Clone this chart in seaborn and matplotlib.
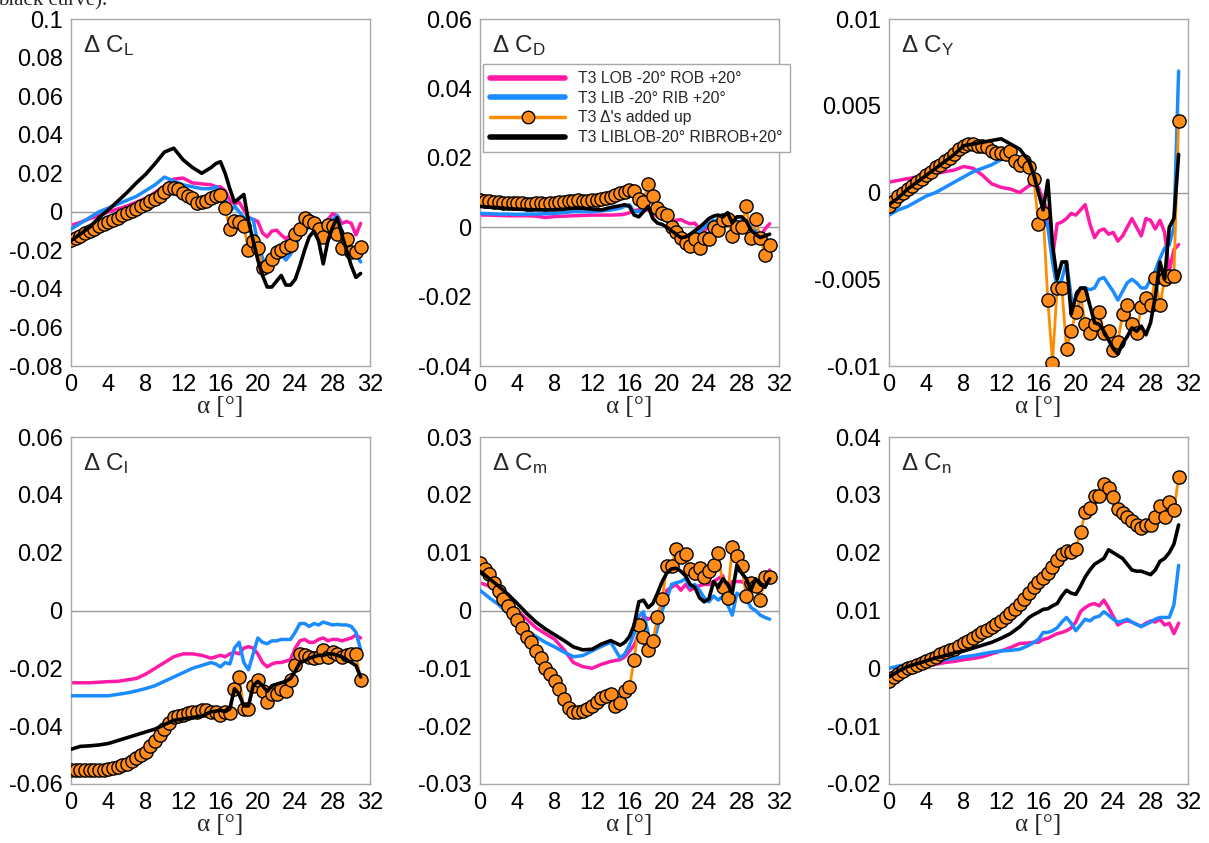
import numpy as np
import matplotlib
matplotlib.use("Agg")
import matplotlib.pyplot as plt
from matplotlib.ticker import MultipleLocator, AutoMinorLocator, FuncFormatter
from matplotlib.lines import Line2D
import seaborn as sns

# ---------------- data ----------------
# angle of attack grids [deg]
ALPHA_LINE = [0, 1, 2, 3, 4, 5, 6, 7, 8, 9, 10, 11, 12, 13, 14,
              15, 15.5, 16, 16.5, 17, 17.5, 18, 18.5, 19, 19.5, 20, 20.5, 21, 21.5,
              22, 22.5, 23, 23.5, 24, 24.5, 25, 25.5, 26, 26.5, 27, 27.5, 28, 28.5,
              29, 29.5, 30, 30.5, 31]
ALPHA_SUM = [0, 0.5, 1, 1.5, 2, 2.5, 3, 3.5, 4, 4.5, 5, 5.5, 6, 6.5, 7, 7.5, 8, 8.5,
             9, 9.5, 10, 10.5, 11, 11.5, 12, 12.5, 13, 13.5, 14, 14.5, 15, 15.5, 16,
             16.5, 17, 17.5, 18, 18.5, 19, 19.5, 20, 20.5, 21, 21.5, 22, 22.5, 23,
             23.5, 24, 24.5, 25, 25.5, 26, 26.5, 27, 27.5, 28, 28.5, 29, 29.5, 30,
             30.5, 31]

SERIES_LABELS = ["T3 LOB -20\u00b0 ROB +20\u00b0", "T3 LIB -20\u00b0 RIB +20\u00b0",
                 "T3 \u0394's added up", "T3 LIBLOB-20\u00b0 RIBROB+20\u00b0"]

# ---- Delta C_L ----
CL_LOB = [-0.007, -0.0055, -0.0035, -0.002, 0.000, 0.0015, 0.003, 0.005, 0.007, 0.010, 0.0135, 0.017, 0.0175, 0.015, 0.0145,
          0.014, 0.013, 0.013, 0.011, 0.006, 0.004, 0.005, 0.001, -0.003, -0.004, -0.005, -0.011, -0.013, -0.010, -0.0095, -0.012,
          -0.014, -0.012, -0.009, -0.006, -0.004, -0.003, -0.005, -0.007, -0.006, -0.004, -0.001, -0.002, -0.006, -0.005, -0.006,
          -0.012, -0.006]
CL_LIB = [-0.009, -0.006, -0.003, 0.000, 0.002, 0.004, 0.006, 0.008, 0.011, 0.014, 0.018, 0.016, 0.014, 0.013, 0.012,
          0.012, 0.013, 0.011, 0.007, 0.000, 0.003, 0.000, -0.003, -0.003, -0.004, -0.016, -0.024, -0.028, -0.027, -0.023, -0.022,
          -0.025, -0.022, -0.018, -0.013, -0.010, -0.008, -0.007, -0.009, -0.012, -0.007, -0.004, -0.002, -0.010, -0.016, -0.020,
          -0.022, -0.026]
CL_SUM = [-0.0146, -0.0134, -0.0123, -0.0111, -0.0100, -0.0088, -0.0076, -0.0065, -0.0053, -0.0042, -0.0030, -0.0018, -0.0007,
          0.0005, 0.0017, 0.0028, 0.0040, 0.0055, 0.0068, 0.0083, 0.0105, 0.0125, 0.0125, 0.0120, 0.0100, 0.0083, 0.0070, 0.0045,
          0.0050, 0.0057, 0.0070, 0.0083, 0.0087, 0.0020, -0.0090, -0.0047, -0.0055, -0.0073, -0.0200, -0.0150, -0.0190, -0.0290,
          -0.0280, -0.0246, -0.0210, -0.0198, -0.0185, -0.0173, -0.0116, -0.0087, -0.0030, -0.0047, -0.0060, -0.0087, -0.0133,
          -0.0070, -0.0076, -0.0116, -0.0190, -0.0139, -0.0210, -0.0210, -0.0180]
CL_BOTH = [-0.015, -0.0115, -0.008, -0.003, 0.001, 0.0055, 0.010, 0.015, 0.0195, 0.025, 0.031, 0.033, 0.027, 0.023, 0.020,
           0.023, 0.025, 0.026, 0.020, 0.012, 0.005, 0.007, 0.009, -0.005, -0.015, -0.025, -0.033, -0.039, -0.039, -0.036, -0.033,
           -0.038, -0.038, -0.035, -0.028, -0.020, -0.013, -0.010, -0.015, -0.027, -0.015, -0.008, -0.003, -0.012, -0.020, -0.028,
           -0.034, -0.032]

# ---- Delta C_D ----
CD_LOB = [0.0035, 0.0035, 0.0034, 0.0033, 0.0033, 0.0033, 0.0032, 0.0028, 0.0031, 0.0032, 0.0033, 0.0034, 0.0035, 0.0035, 0.0035,
          0.0036, 0.0038, 0.0042, 0.0048, 0.0050, 0.0048, 0.0050, 0.0040, 0.0030, 0.0025, 0.0020, 0.0018, 0.0020, 0.0022, 0.0015,
          0.0010, 0.0012, -0.0005, -0.0010, 0.0002, -0.0002, -0.0010, 0.0000, 0.0015, 0.0020, 0.0005, -0.0010, 0.0005, 0.0000,
          -0.0015, -0.0030, -0.0005, 0.0010]
CD_LIB = [0.0040, 0.0039, 0.0038, 0.0038, 0.0037, 0.0038, 0.0038, 0.0039, 0.0040, 0.0042, 0.0045, 0.0045, 0.0045, 0.0047, 0.0050,
          0.0055, 0.0060, 0.0065, 0.0045, 0.0045, 0.0050, 0.0060, 0.0045, 0.0035, 0.0025, 0.0018, 0.0000, -0.0020, -0.0028, -0.0030,
          -0.0025, -0.0020, -0.0010, 0.0000, 0.0012, 0.0020, 0.0018, 0.0020, 0.0030, 0.0025, 0.0000, 0.0020, 0.0010, 0.0000,
          -0.0010, -0.0020, -0.0035, -0.0050]
CD_SUM = [0.0078, 0.0077, 0.0075, 0.0073, 0.0072, 0.0071, 0.0070, 0.0070, 0.0069, 0.0069, 0.0068, 0.0068, 0.0069, 0.0070, 0.0068,
          0.0070, 0.0071, 0.0072, 0.0073, 0.0075, 0.0077, 0.0078, 0.0077, 0.0077, 0.0078, 0.0079, 0.0080, 0.0083, 0.0088, 0.0093,
          0.0098, 0.0103, 0.0108, 0.0105, 0.0082, 0.0072, 0.0125, 0.0090, 0.0055, 0.0042, 0.0035, 0.0000, -0.0015, -0.0030,
          -0.0045, -0.0055, -0.0035, -0.0060, -0.0030, -0.0035, 0.0000, -0.0008, 0.0020, 0.0025, -0.0025, 0.0000, 0.0000, 0.0060,
          -0.0030, 0.0025, -0.0030, -0.0080, -0.0050]
CD_BOTH = [0.0060, 0.0058, 0.0056, 0.0054, 0.0052, 0.0051, 0.0050, 0.0050, 0.0050, 0.0052, 0.0055, 0.0055, 0.0052, 0.0050, 0.0057,
           0.0062, 0.0065, 0.0060, 0.0035, 0.0030, 0.0045, 0.0060, 0.0025, 0.0012, 0.0008, 0.0000, -0.0010, -0.0020, -0.0030,
           -0.0028, -0.0020, -0.0010, 0.0000, 0.0012, 0.0025, 0.0032, 0.0035, 0.0030, 0.0042, 0.0012, 0.0030, 0.0030, 0.0018,
           -0.0008, -0.0020, -0.0030, -0.0025, -0.0020]

# ---- Delta C_Y ----
CY_LOB = [0.0006, 0.0007, 0.0008, 0.0009, 0.0010, 0.0011, 0.0012, 0.0013, 0.0015, 0.0014, 0.0010, 0.0005, 0.0003, 0.0002, 0.0000,
          0.0004, 0.0005, 0.0003, -0.0005, -0.0010, -0.0037, -0.0018, -0.0017, -0.0015, -0.0012, -0.0013, -0.0010, -0.0007,
          -0.0018, -0.0026, -0.0022, -0.0021, -0.0024, -0.0023, -0.0028, -0.0025, -0.0020, -0.0015, -0.0020, -0.0025, -0.0015,
          -0.0016, -0.0021, -0.0016, -0.0023, -0.0045, -0.0033, -0.0030]
CY_LIB = [-0.0013, -0.0010, -0.0008, -0.0005, -0.0002, 0.0000, 0.0003, 0.0006, 0.0009, 0.0012, 0.0014, 0.0016, 0.0019, 0.0020, 0.0019,
          0.0015, 0.0010, 0.0000, -0.0010, -0.0020, -0.0040, -0.0055, -0.0050, -0.0040, -0.0060, -0.0072, -0.0060, -0.0055,
          -0.0056, -0.0055, -0.0050, -0.0049, -0.0053, -0.0057, -0.0062, -0.0057, -0.0052, -0.0050, -0.0052, -0.0055, -0.0055,
          -0.0050, -0.0045, -0.0038, -0.0032, -0.0030, -0.0020, 0.0070]
CY_SUM = [-0.0008, -0.0005, -0.0002, 0.0000, 0.0002, 0.0004, 0.0006, 0.0008, 0.0010, 0.0012, 0.0015, 0.0016, 0.0018, 0.0020, 0.0022,
          0.0025, 0.0027, 0.0028, 0.0028, 0.0027, 0.0027, 0.0026, 0.0024, 0.0023, 0.0023, 0.0022, 0.0024, 0.0018, 0.0016, 0.0018,
          0.0015, 0.0008, -0.0018, -0.0012, -0.0062, -0.0098, -0.0055, -0.0055, -0.0090, -0.0080, -0.0069, -0.0059, -0.0076,
          -0.0081, -0.0076, -0.0069, -0.0081, -0.0080, -0.0091, -0.0086, -0.0070, -0.0065, -0.0076, -0.0081, -0.0066, -0.0061,
          -0.0065, -0.0049, -0.0065, -0.0050, -0.0048, -0.0048, 0.0041]
CY_BOTH = [-0.0007, -0.0003, 0.0002, 0.0006, 0.0010, 0.0014, 0.0018, 0.0022, 0.0027, 0.0028, 0.0029, 0.0030, 0.0031, 0.0028, 0.0025,
           0.0018, 0.0010, 0.0000, -0.0010, 0.0007, -0.0030, -0.0050, -0.0040, -0.0040, -0.0070, -0.0060, -0.0055, -0.0055,
           -0.0065, -0.0075, -0.0076, -0.0080, -0.0085, -0.0090, -0.0093, -0.0087, -0.0083, -0.0078, -0.0080, -0.0077, -0.0082,
           -0.0075, -0.0060, -0.0040, -0.0050, -0.0020, -0.0015, 0.0022]

# ---- Delta C_l ----
Cl_LOB = [-0.025, -0.025, -0.025, -0.0248, -0.0246, -0.0245, -0.024, -0.0235, -0.022, -0.020, -0.018, -0.016, -0.015, -0.015, -0.0155,
          -0.0165, -0.016, -0.0155, -0.016, -0.015, -0.0145, -0.015, -0.013, -0.0125, -0.013, -0.015, -0.018, -0.0195, -0.0185,
          -0.018, -0.018, -0.0175, -0.017, -0.013, -0.0105, -0.010, -0.011, -0.011, -0.010, -0.0095, -0.0105, -0.010, -0.010,
          -0.0105, -0.010, -0.0095, -0.0085, -0.0095]
Cl_LIB = [-0.0295, -0.0295, -0.0295, -0.0295, -0.0295, -0.029, -0.0285, -0.0278, -0.027, -0.026, -0.0245, -0.023, -0.0215, -0.020,
          -0.019, -0.018, -0.0185, -0.0195, -0.018, -0.0185, -0.013, -0.011, -0.018, -0.0205, -0.015, -0.0095, -0.011, -0.0115,
          -0.0105, -0.0105, -0.010, -0.010, -0.010, -0.0075, -0.0045, -0.0045, -0.0055, -0.0045, -0.005, -0.004, -0.0045, -0.005,
          -0.0048, -0.005, -0.005, -0.0055, -0.0075, -0.0135]
Cl_SUM = [-0.055, -0.055, -0.055, -0.055, -0.055, -0.055, -0.055, -0.055, -0.0548, -0.0545, -0.054, -0.0535, -0.053, -0.052, -0.051,
          -0.050, -0.049, -0.047, -0.045, -0.043, -0.041, -0.039, -0.037, -0.0365, -0.036, -0.0355, -0.035, -0.035, -0.0345,
          -0.0345, -0.035, -0.035, -0.036, -0.035, -0.0355, -0.027, -0.023, -0.034, -0.034, -0.026, -0.024, -0.028, -0.0315,
          -0.029, -0.029, -0.027, -0.028, -0.024, -0.019, -0.015, -0.0155, -0.016, -0.0165, -0.016, -0.0135, -0.016, -0.0145,
          -0.015, -0.016, -0.0155, -0.015, -0.015, -0.024]
Cl_BOTH = [-0.048, -0.047, -0.0468, -0.0465, -0.046, -0.045, -0.044, -0.043, -0.042, -0.041, -0.0395, -0.038, -0.0375, -0.037,
           -0.0365, -0.035, -0.0348, -0.0345, -0.035, -0.034, -0.027, -0.029, -0.033, -0.033, -0.026, -0.0245, -0.026, -0.028,
           -0.026, -0.0255, -0.025, -0.0245, -0.0235, -0.021, -0.018, -0.0175, -0.0165, -0.016, -0.0155, -0.0155, -0.015, -0.015,
           -0.0155, -0.016, -0.017, -0.018, -0.019, -0.023]

# ---- Delta C_m ----
Cm_LOB = [0.0048, 0.0042, 0.0030, 0.0015, 0.0000, -0.0015, -0.0030, -0.0040, -0.0050, -0.0068, -0.0090, -0.0097, -0.0100, -0.0093,
          -0.0088, -0.0085, -0.0080, -0.0070, -0.0060, -0.0040, -0.0010, -0.0015, -0.0012, -0.0005, 0.0010, 0.0035, 0.0040,
          0.0045, 0.0035, 0.0045, 0.0035, 0.0040, 0.0043, 0.0045, 0.0045, 0.0050, 0.0055, 0.0060, 0.0030, 0.0050, 0.0050, 0.0050,
          0.0045, 0.0040, 0.0045, 0.0050, 0.0050, 0.0070]
Cm_LIB = [0.0035, 0.0022, 0.0010, -0.0005, -0.0020, -0.0035, -0.0045, -0.0055, -0.0063, -0.0072, -0.0080, -0.0078, -0.0070, -0.0062,
          -0.0055, -0.0082, -0.0075, -0.0060, -0.0040, -0.0010, -0.0002, -0.0040, -0.0058, -0.0030, 0.0000, 0.0020, 0.0045, 0.0048,
          0.0050, 0.0055, 0.0040, 0.0045, 0.0035, 0.0022, 0.0015, 0.0025, 0.0018, 0.0025, 0.0010, -0.0008, 0.0030, 0.0025, 0.0020,
          0.0005, 0.0000, -0.0008, -0.0012, -0.0015]
Cm_SUM = [0.0082, 0.0072, 0.0063, 0.0048, 0.0033, 0.0020, 0.0008, -0.0005, -0.0017, -0.0030, -0.0046, -0.0055, -0.0070, -0.0083,
          -0.0100, -0.0110, -0.0122, -0.0135, -0.0153, -0.0168, -0.0175, -0.0175, -0.0173, -0.0170, -0.0165, -0.0158, -0.0152,
          -0.0148, -0.0145, -0.0165, -0.0160, -0.0140, -0.0133, -0.0085, -0.0025, -0.0045, -0.0068, -0.0052, -0.0012, 0.0020,
          0.0077, 0.0077, 0.0107, 0.0093, 0.0098, 0.0072, 0.0065, 0.0073, 0.0058, 0.0068, 0.0078, 0.0100, 0.0040, 0.0022, 0.0110,
          0.0095, 0.0077, 0.0025, 0.0047, 0.0043, 0.0018, 0.0058, 0.0058]
Cm_BOTH = [0.0068, 0.0055, 0.0042, 0.0028, 0.0012, -0.0005, -0.0020, -0.0032, -0.0042, -0.0052, -0.0063, -0.0068, -0.0067, -0.0058,
           -0.0052, -0.0060, -0.0055, -0.0045, -0.0025, 0.0015, 0.0018, 0.0005, 0.0012, 0.0030, 0.0050, 0.0065, 0.0072, 0.0073,
           0.0068, 0.0060, 0.0045, 0.0040, 0.0022, 0.0015, 0.0020, 0.0050, 0.0040, 0.0055, 0.0045, 0.0030, 0.0078, 0.0065, 0.0055,
           0.0035, 0.0055, 0.0045, 0.0040, 0.0055]

# ---- Delta C_n ----
Cn_LOB = [-0.0010, -0.0005, 0.0000, 0.0003, 0.0005, 0.0007, 0.0010, 0.0012, 0.0015, 0.0017, 0.0020, 0.0025, 0.0030, 0.0036, 0.0043,
          0.0044, 0.0045, 0.0045, 0.0050, 0.0052, 0.0056, 0.0060, 0.0062, 0.0065, 0.0070, 0.0080, 0.0098, 0.0105, 0.0110, 0.0112,
          0.0108, 0.0118, 0.0105, 0.0090, 0.0075, 0.0080, 0.0082, 0.0080, 0.0076, 0.0073, 0.0078, 0.0082, 0.0080, 0.0085, 0.0075,
          0.0078, 0.0060, 0.0078]
Cn_LIB = [0.0000, 0.0004, 0.0007, 0.0010, 0.0012, 0.0013, 0.0015, 0.0017, 0.0020, 0.0022, 0.0025, 0.0028, 0.0030, 0.0031, 0.0033,
          0.0040, 0.0045, 0.0050, 0.0062, 0.0062, 0.0065, 0.0070, 0.0080, 0.0088, 0.0078, 0.0065, 0.0075, 0.0085, 0.0082, 0.0088,
          0.0090, 0.0098, 0.0092, 0.0085, 0.0080, 0.0082, 0.0085, 0.0080, 0.0076, 0.0072, 0.0076, 0.0080, 0.0085, 0.0088, 0.0088,
          0.0088, 0.0110, 0.0178]
Cn_SUM = [-0.0022, -0.0015, -0.0010, -0.0005, 0.0000, 0.0003, 0.0006, 0.0010, 0.0013, 0.0016, 0.0020, 0.0024, 0.0028, 0.0031,
          0.0034, 0.0038, 0.0043, 0.0048, 0.0052, 0.0057, 0.0062, 0.0067, 0.0072, 0.0077, 0.0082, 0.0088, 0.0095, 0.0103, 0.0112,
          0.0120, 0.0130, 0.0140, 0.0150, 0.0157, 0.0165, 0.0175, 0.0187, 0.0197, 0.0203, 0.0202, 0.0207, 0.0235, 0.0270, 0.0278,
          0.0298, 0.0298, 0.0318, 0.0312, 0.0297, 0.0276, 0.0268, 0.0262, 0.0255, 0.0247, 0.0242, 0.0247, 0.0248, 0.0262, 0.0280,
          0.0262, 0.0288, 0.0273, 0.0330]
Cn_BOTH = [-0.0015, -0.0005, 0.0003, 0.0008, 0.0013, 0.0018, 0.0022, 0.0027, 0.0030, 0.0035, 0.0040, 0.0045, 0.0052, 0.0060, 0.0072,
           0.0088, 0.0093, 0.0097, 0.0102, 0.0103, 0.0108, 0.0112, 0.0125, 0.0135, 0.0130, 0.0128, 0.0142, 0.0158, 0.0170, 0.0180,
           0.0185, 0.0190, 0.0205, 0.0200, 0.0195, 0.0190, 0.0180, 0.0170, 0.0168, 0.0168, 0.0165, 0.0162, 0.0170, 0.0185, 0.0190,
           0.0200, 0.0215, 0.0248]

PANEL_NAMES = ["L", "D", "Y", "l", "m", "n"]
PANEL_DATA = [(CL_LOB, CL_LIB, CL_SUM, CL_BOTH), (CD_LOB, CD_LIB, CD_SUM, CD_BOTH),
              (CY_LOB, CY_LIB, CY_SUM, CY_BOTH), (Cl_LOB, Cl_LIB, Cl_SUM, Cl_BOTH),
              (Cm_LOB, Cm_LIB, Cm_SUM, Cm_BOTH), (Cn_LOB, Cn_LIB, Cn_SUM, Cn_BOTH)]
Y_LIMITS = [(-0.08, 0.1, 0.02), (-0.04, 0.06, 0.02), (-0.01, 0.01, 0.005),
            (-0.06, 0.06, 0.02), (-0.03, 0.03, 0.01), (-0.02, 0.04, 0.01)]

# ---------------- style ----------------
sns.set_theme(style="white")
plt.rcParams["font.family"] = ["Liberation Sans", "DejaVu Sans"]
plt.rcParams["axes.unicode_minus"] = False
plt.rcParams["mathtext.fontset"] = "custom"
plt.rcParams["mathtext.rm"] = "Liberation Sans"
plt.rcParams["mathtext.it"] = "Liberation Sans:italic"
plt.rcParams["mathtext.bf"] = "Liberation Sans:bold"

PINK = "#ff1aa8"
BLUE = "#1a8cff"
ORANGE = "#ff8c00"
ORANGE_FACE = "#ff8c1a"
GRAY = "#a8a8a8"

fig = plt.figure(figsize=(12.09, 8.43), dpi=100)
lefts = [0.0587, 0.3970, 0.7353]
bottoms = [0.5658, 0.0700]
W, H = 0.2473, 0.4116

fmt = FuncFormatter(lambda v, p: "0" if abs(v) < 1e-12 else f"{round(v, 6):g}")

axes = []
for i in range(6):
    r, c = divmod(i, 3)
    ax = fig.add_axes([lefts[c], bottoms[r], W, H])
    axes.append(ax)
    lob, lib, tot, both = PANEL_DATA[i]
    ax.axhline(0, color="#9a9a9a", lw=1.0, zorder=1)
    sns.lineplot(x=ALPHA_LINE, y=lob, ax=ax, color=PINK, linewidth=2.5,
                 sort=False, estimator=None, legend=False, zorder=2)
    sns.lineplot(x=ALPHA_LINE, y=lib, ax=ax, color=BLUE, linewidth=2.5,
                 sort=False, estimator=None, legend=False, zorder=3)
    sns.lineplot(x=ALPHA_SUM, y=tot, ax=ax, color=ORANGE, linewidth=2.0,
                 marker="o", markersize=9.5, markerfacecolor=ORANGE_FACE,
                 markeredgecolor="black", markeredgewidth=1.0,
                 sort=False, estimator=None, legend=False, zorder=4)
    sns.lineplot(x=ALPHA_LINE, y=both, ax=ax, color="black", linewidth=2.6,
                 sort=False, estimator=None, legend=False, zorder=5)

    lo, hi, step = Y_LIMITS[i]
    ax.set_xlim(0, 32)
    ax.set_ylim(lo, hi)
    ax.xaxis.set_major_locator(MultipleLocator(4))
    ax.xaxis.set_minor_locator(AutoMinorLocator(4))
    ax.yaxis.set_major_locator(MultipleLocator(step))
    ax.yaxis.set_minor_locator(AutoMinorLocator(5))
    ax.yaxis.set_major_formatter(fmt)
    ax.tick_params(which="both", direction="in", color=GRAY, width=1.0,
                   labelsize=17, labelcolor="black", pad=6)
    ax.tick_params(which="major", length=5)
    ax.tick_params(which="minor", length=4)
    for sp in ax.spines.values():
        sp.set_color(GRAY)
        sp.set_linewidth(1.0)
    ax.set_xlabel("\u03b1 [\u00b0]", family="Liberation Serif", fontsize=18, labelpad=0)
    ax.set_ylabel("")
    ax.grid(False)
    ax.text(0.04, 0.905, r"$\mathregular{\Delta\ C_{%s}}$" % PANEL_NAMES[i],
            transform=ax.transAxes, fontsize=17.5, va="baseline", ha="left")

# legend (in the C_D panel)
handles = [Line2D([], [], color=PINK, lw=4),
           Line2D([], [], color=BLUE, lw=4),
           Line2D([], [], color=ORANGE, lw=2.5, marker="o", markersize=9,
                  markerfacecolor=ORANGE_FACE, markeredgecolor="black", markeredgewidth=1.0),
           Line2D([], [], color="black", lw=4)]
leg = fig.legend(handles, SERIES_LABELS, loc="upper left",
                 bbox_to_anchor=(0.3995, 0.9241), fontsize=11.3, frameon=True,
                 fancybox=False, framealpha=1, edgecolor=GRAY, handlelength=4.8,
                 handletextpad=0.8, labelspacing=0.3, borderpad=0.45, borderaxespad=0)
leg.get_frame().set_linewidth(1.0)

# clipped caption fragment from the page above
fig.text(-0.002, 0.994, "black curve).", family="Liberation Serif", fontsize=15,
         va="baseline", ha="left")

fig.savefig("out.png", dpi=100)
